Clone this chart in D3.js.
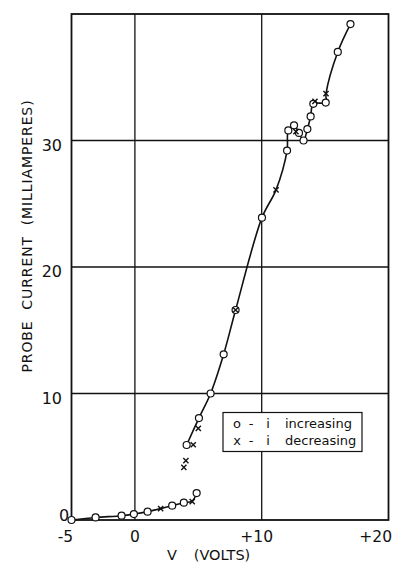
<!DOCTYPE html>
<html>
<head>
<meta charset="utf-8">
<script src="https://cdn.jsdelivr.net/npm/d3@7"></script>
<style>
  html, body { margin: 0; padding: 0; background: #fff; }
  svg { display: block; font-family: "DejaVu Sans", sans-serif; }
</style>
</head>
<body>
<svg id="svg" width="393" height="565"></svg>
<script>
// ticks and labels
const xTicks = [-5, 0, 10, 20]
const xTickLabels = ['-5', '0', '+10', '+20']
const yTicks = [0, 10, 20, 30]
const yTickLabels = ['0', '10', '20', '30']
const xGrid = [0, 10]
const yGrid = [10, 20, 30]

// o - i increasing  [V, mA]
const increasing = [
	[-5, 0], [-3.1, 0.2], [-1.05, 0.34], [-0.08, 0.47], [1.0, 0.66], [2.94, 1.13],
	[3.86, 1.37], [4.87, 2.13],
	[4.08, 5.93], [5.05, 8.06], [5.97, 10.0], [7.0, 13.1], [7.94, 16.6], [10.02, 23.9],
	[12.0, 29.2], [12.1, 30.8], [12.55, 31.2], [12.94, 30.6], [13.3, 30.0], [13.6, 30.9],
	[13.86, 31.9], [14.07, 32.9], [15.05, 33.0], [16.0, 37.0], [17.0, 39.2]
]

// x - i decreasing
const decreasing = [
	[2.03, 0.9], [4.52, 1.45], [3.86, 4.16], [4.02, 4.69], [4.6, 5.95], [5.0, 7.25],
	[7.94, 16.6], [11.13, 26.1], [12.7, 30.7], [14.2, 33.1], [15.07, 33.7]
]

// drawn curves through the points
const lowerCurve = [
	[-5, 0], [-3.1, 0.2], [-1.05, 0.34], [-0.08, 0.47], [1.0, 0.66], [2.03, 0.9],
	[2.94, 1.13], [3.86, 1.37], [4.52, 1.5], [4.87, 2.13]
]
const upperCurve = [
	[4.08, 5.93], [5.05, 8.06], [5.97, 10.0], [7.0, 13.1], [7.94, 16.6], [10.02, 23.9],
	[11.13, 26.1], [12.0, 29.2], [12.1, 30.8], [12.55, 31.2], [12.94, 30.6], [13.3, 30.0],
	[13.6, 30.9], [13.86, 31.9], [14.07, 32.9], [15.05, 33.0], [15.07, 33.7],
	[16.0, 37.0], [17.0, 39.2]
]

const legendItems = [
	{ sym: 'o', text: 'increasing' },
	{ sym: 'x', text: 'decreasing' }
]

const $svg = d3.select('#svg')
const ink = '#111'

const x = d3.scaleLinear().domain([-5, 20]).range([71.5, 388.5])
const y = d3.scaleLinear().domain([0, 40]).range([520, 14])

// grid
$svg.append('g').selectAll('line').data(xGrid).join('line')
	.attr('x1', d => x(d)).attr('x2', d => x(d))
	.attr('y1', y(0)).attr('y2', y(40))
	.attr('stroke', ink).attr('stroke-width', 1.3)
$svg.append('g').selectAll('line').data(yGrid).join('line')
	.attr('x1', x(-5)).attr('x2', x(20))
	.attr('y1', d => y(d)).attr('y2', d => y(d))
	.attr('stroke', ink).attr('stroke-width', 1.3)

// frame
$svg.append('rect')
	.attr('x', x(-5)).attr('y', y(40))
	.attr('width', x(20) - x(-5)).attr('height', y(0) - y(40))
	.attr('fill', 'none').attr('stroke', ink).attr('stroke-width', 1.8)

// tick labels
$svg.append('g').selectAll('text').data(xTicks).join('text')
	.attr('x', (d, i) => i === 3 ? 392 : x(d) + (i === 0 ? -6 : i === 2 ? -5 : 0))
	.attr('y', 542)
	.attr('text-anchor', (d, i) => i === 3 ? 'end' : 'middle')
	.attr('font-size', 15.5).attr('fill', ink)
	.text((d, i) => xTickLabels[i])

$svg.append('g').selectAll('text').data(yTicks).join('text')
	.attr('x', (d, i) => i === 0 ? 64 : 62)
	.attr('y', (d, i) => y(d) + (i === 0 ? 1 : 10))
	.attr('text-anchor', (d, i) => i === 0 ? 'middle' : 'end')
	.attr('font-size', 16).attr('fill', ink)
	.text((d, i) => yTickLabels[i])

// axis titles
$svg.append('text')
	.attr('transform', 'translate(32,236) rotate(-90)')
	.attr('text-anchor', 'middle')
	.attr('font-size', 14).attr('fill', ink)
	.attr('letter-spacing', 0.9)
	.style('white-space', 'pre')
	.text('PROBE  CURRENT  (MILLIAMPERES)')

$svg.append('text')
	.attr('x', 172).attr('y', 560)
	.attr('text-anchor', 'middle')
	.attr('font-size', 14.5).attr('fill', ink)
	.text('V')
$svg.append('text')
	.attr('x', 222).attr('y', 560)
	.attr('text-anchor', 'middle')
	.attr('font-size', 14.5).attr('fill', ink)
	.text('(VOLTS)')

// curves
const line = d3.line()
	.x(d => x(d[0]))
	.y(d => y(d[1]))
	.curve(d3.curveCatmullRom.alpha(0.5))

$svg.append('path').attr('d', line(lowerCurve))
	.attr('fill', 'none').attr('stroke', ink).attr('stroke-width', 1.6)
$svg.append('path').attr('d', line(upperCurve))
	.attr('fill', 'none').attr('stroke', ink).attr('stroke-width', 1.6)

// markers
$svg.append('g').selectAll('circle').data(increasing).join('circle')
	.attr('cx', d => x(d[0])).attr('cy', d => y(d[1]))
	.attr('r', 3.5)
	.attr('fill', '#fff').attr('stroke', ink).attr('stroke-width', 1.2)

const cross = 2.6
$svg.append('g').selectAll('path').data(decreasing).join('path')
	.attr('d', d => {
		const cx = x(d[0]), cy = y(d[1])
		return `M${cx - cross},${cy - cross}L${cx + cross},${cy + cross}M${cx + cross},${cy - cross}L${cx - cross},${cy + cross}`
	})
	.attr('stroke', ink).attr('stroke-width', 1.4).attr('fill', 'none')

// legend
const $legend = $svg.append('g')
$legend.append('rect')
	.attr('x', 223).attr('y', 412.5).attr('width', 139).attr('height', 39)
	.attr('fill', '#fff').attr('stroke', ink).attr('stroke-width', 1.2)
const $rows = $legend.selectAll('g').data(legendItems).join('g')
	.attr('transform', (d, i) => `translate(0,${428 + i * 16.5})`)
	.attr('font-size', 13).attr('fill', ink)
$rows.append('text').attr('x', 237).attr('text-anchor', 'middle').text(d => d.sym)
$rows.append('text').attr('x', 251).attr('text-anchor', 'middle').text('-')
$rows.append('text').attr('x', 268).attr('text-anchor', 'middle').text('i')
$rows.append('text').attr('x', 285).text(d => d.text)
</script>
</body>
</html>
